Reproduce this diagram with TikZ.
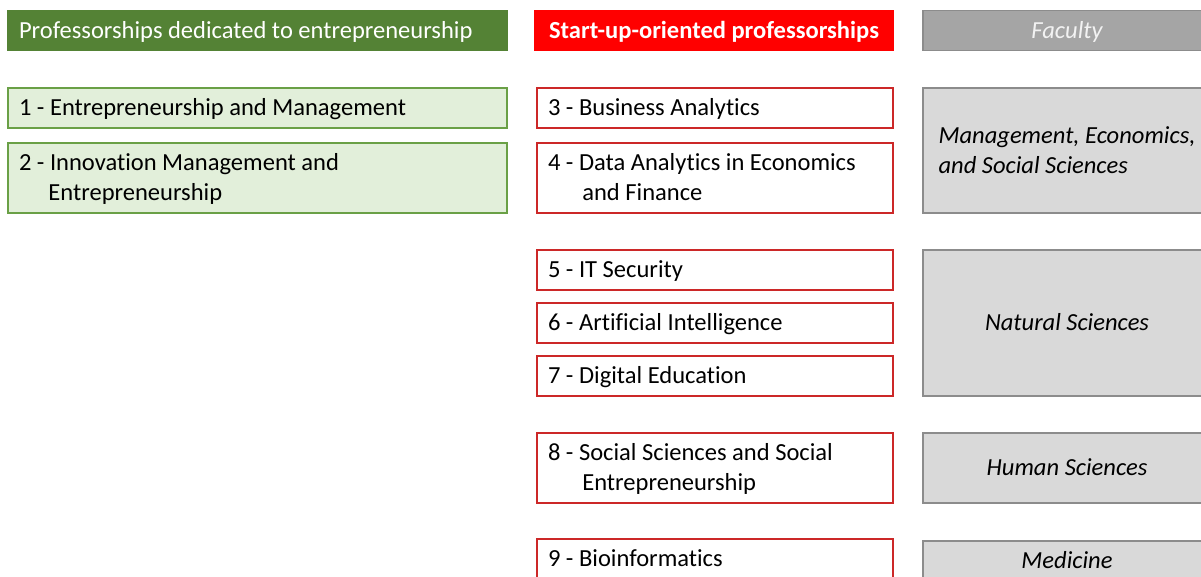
\documentclass[tikz,border=0pt]{standalone}
\usepackage{fontspec}
\setmainfont{Carlito}[Ligatures={NoCommon}]
\usetikzlibrary{positioning}

\definecolor{hdgreen}{RGB}{84,130,53}
\definecolor{entfill}{RGB}{226,239,218}
\definecolor{entline}{RGB}{106,160,70}
\definecolor{startline}{RGB}{204,40,40}
\definecolor{facfill}{RGB}{217,217,217}
\definecolor{facline}{RGB}{140,140,140}
\definecolor{fachead}{RGB}{165,165,165}
\definecolor{faclight}{RGB}{242,242,242}

\tikzset{
  % caps of the first line down to the last baseline sit centred in a box
  every node/.style={font=\fontsize{18.4}{22.5}\selectfont, line width=1pt,
    text height=11.85pt, text depth=0pt},
  twolines/.style={text depth=22.5pt},
  twofac/.style={text height=34.35pt, text depth=0pt},
  parbox/.style={align=left, inner xsep=8.25pt,
    execute at begin node={\spaceskip=\fontdimen2\font\relax}},
  colhead/.style={minimum height=30pt, inner ysep=0pt},
  enthead/.style={colhead, parbox, fill=hdgreen, draw=hdgreen, text=white,
    text width=357.75pt},
  starthead/.style={colhead, fill=red, draw=red, text=white,
    minimum width=268.5pt, font=\fontsize{18.4}{22.5}\selectfont\bfseries},
  facthead/.style={colhead, fill=fachead, draw=facline, text=faclight,
    minimum width=216pt, font=\fontsize{18.4}{22.5}\selectfont\itshape},
  entbox/.style={parbox, fill=entfill, draw=entline, minimum height=30pt,
    text width=357.75pt},
  startbox/.style={parbox, fill=white, draw=startline, minimum height=30pt,
    text width=250.5pt},
  facbox/.style={fill=facfill, draw=facline, minimum width=216pt,
    align=left, font=\fontsize{18.4}{22.5}\selectfont\itshape}
}

\begin{document}
\begin{tikzpicture}[x=0.75pt,y=-0.75pt]
  \clip (0,0) rectangle (1201,576);

  % column headers
  \node[enthead] (hent) at (257.5,30.5) {Professorships dedicated to entrepreneurship};
  \node[starthead] (hstart) at (714,30.5) {Start-up-oriented professorships};
  \node[facthead] (hfac) at (1067,30.5) {Faculty};

  % professorships dedicated to entrepreneurship
  \node[entbox] (p1) at (257.5,108) {1 - Entrepreneurship and Management};
  \node[entbox, twolines, minimum height=52.5pt] (p2) at (257.5,178)
    {2 - Innovation Management and\\\hspace*{1.2em}Entrepreneurship};

  % start-up-oriented professorships
  \node[startbox] (p3) at (715,108) {3 - Business Analytics};
  \node[startbox, twolines, minimum height=52.5pt] (p4) at (715,178)
    {4 - Data Analytics in Economics\\\hspace*{1.4em}and Finance};
  \node[startbox] (p5) at (715,270) {5 - IT Security};
  \node[startbox] (p6) at (715,323) {6 - Artificial Intelligence};
  \node[startbox] (p7) at (715,376) {7 - Digital Education};
  \node[startbox, twolines, minimum height=52.5pt] (p8) at (715,468)
    {8 - Social Sciences and Social\\\hspace*{1.4em}Entrepreneurship};
  \node[startbox] (p9) at (715,559) {9 - Bioinformatics};

  % faculties
  \node[facbox, twofac, minimum height=93.75pt] (f1) at (1067,150.5)
    {Management, Economics,\\and Social Sciences};
  \node[facbox, minimum height=109.5pt] (f2) at (1067,323) {Natural Sciences};
  \node[facbox, minimum height=52.5pt] (f3) at (1067,468) {Human Sciences};
  \node[facbox, minimum height=30pt] (f4) at (1067,561) {Medicine};
\end{tikzpicture}
\end{document}
